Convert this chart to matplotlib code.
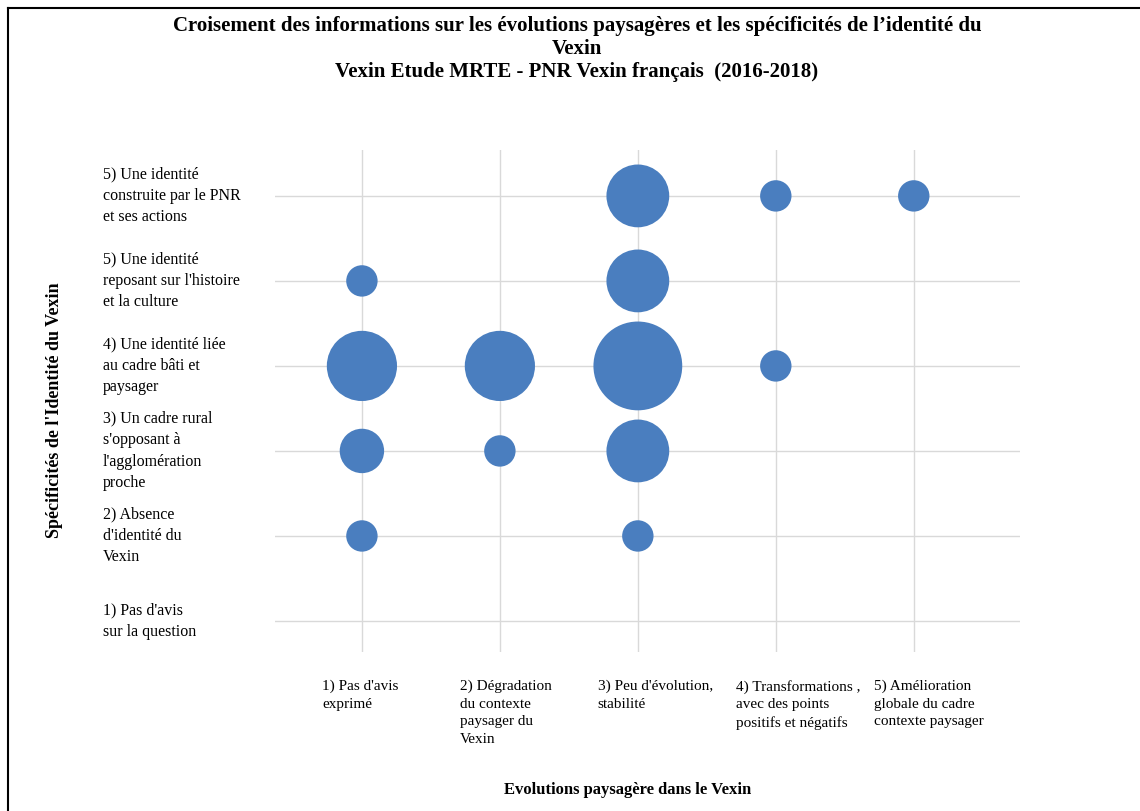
import matplotlib.pyplot as plt
import matplotlib.transforms as mtransforms
from matplotlib.lines import Line2D

plt.rcParams['font.family'] = ['Liberation Serif', 'DejaVu Serif']

# Categories
x_labels = [
    "1) Pas d'avis\nexprimé",
    "2) Dégradation\ndu contexte\npaysager du\nVexin",
    "3) Peu d'évolution,\nstabilité",
    "4) Transformations ,\navec des points\npositifs et négatifs",
    "5) Amélioration\nglobale du cadre\ncontexte paysager",
]
y_labels = [
    "1) Pas d'avis\nsur la question",
    "2) Absence\nd'identité du\nVexin",
    "3) Un cadre rural\ns'opposant à\nl'agglomération\nproche",
    "4) Une identité liée\nau cadre bâti et\npaysager",
    "5) Une identité\nreposant sur l'histoire\net la culture",
    "5) Une identité\nconstruite par le PNR\net ses actions",
]

# Bubbles: evolution (x), identity (y), number of answers
evolution = [1, 1, 1, 1, 2, 2, 3, 3, 3, 3, 3, 4, 4, 5]
identite = [5, 4, 3, 2, 4, 3, 6, 5, 4, 3, 2, 6, 4, 6]
reponses = [1, 5, 2, 1, 5, 1, 4, 4, 8, 4, 1, 1, 1, 1]

W, H = 1140, 811
fig = plt.figure(figsize=(W / 100, H / 100), dpi=100)
ax = fig.add_axes([275 / W, 1 - 652 / H, 745 / W, 502 / H])

ax.scatter(evolution, identite, s=[r * 511 for r in reponses],
           color='#4a7ebf', edgecolors='none', zorder=3)

ax.set_xlim(0.37, 5.77)
ax.set_ylim(0.635, 6.54)
ax.set_xticks(range(1, 6))
ax.set_xticklabels(x_labels, ha='left', va='top', fontsize=11, linespacing=1.45)
ax.set_yticks(range(1, 7))
ax.set_yticklabels(y_labels, ha='left', va='center', fontsize=11.5, linespacing=1.45)
ax.tick_params(axis='x', length=0, pad=20)
ax.tick_params(axis='y', length=0, pad=124)

offset = mtransforms.ScaledTranslation(-40 / 100, 0, fig.dpi_scale_trans)
for lab in ax.get_xticklabels():
    lab.set_transform(lab.get_transform() + offset)

ax.grid(True, color='#d9d9d9', linewidth=1)
ax.set_axisbelow(True)
for sp in ax.spines.values():
    sp.set_visible(False)

fig.text(577 / W, 1 - 16 / H,
         "Croisement des informations sur les évolutions paysagères et les spécificités de l’identité du\n"
         "Vexin\nVexin Etude MRTE - PNR Vexin français  (2016-2018)",
         ha='center', va='top', fontsize=15, fontweight='bold', linespacing=1.2)
fig.text(55 / W, 1 - 410 / H, "Spécificités de l'Identité du Vexin",
         rotation=90, ha='center', va='center', fontsize=13, fontweight='bold')
fig.text(628 / W, 1 - 790 / H, "Evolutions paysagère dans le Vexin",
         ha='center', va='center', fontsize=12, fontweight='bold')

# outer frame (top and left edges)
fig.add_artist(Line2D([8 / W, 8 / W], [0, 1 - 8 / H], color='black', linewidth=1.5))
fig.add_artist(Line2D([8 / W, 1], [1 - 8 / H, 1 - 8 / H], color='black', linewidth=1.5))

fig.savefig("out.png", dpi=100)
